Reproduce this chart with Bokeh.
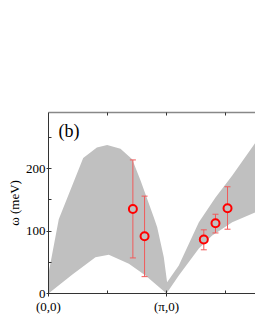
from bokeh.plotting import figure
from bokeh.models import Range1d, FixedTicker, LinearAxis, Label, ColumnDataSource
from bokeh.embed import file_html
from bokeh.resources import INLINE

# gray band boundaries (x in units of pi, omega in meV)
upper_x = [0, 0.087, 0.294, 0.41, 0.497, 0.61, 0.709, 0.78, 0.892, 0.921, 0.977, 1.005,
           1.104, 1.274, 1.415, 1.557, 1.754]
upper_w = [32, 119, 217, 234, 238, 232, 215, 181, 122, 106, 58, 18,
           45, 114, 154, 189, 242]
lower_x = [0, 0.2, 0.398, 0.511, 0.681, 0.822, 1.0, 1.104, 1.274, 1.387, 1.557, 1.754]
lower_w = [0, 30, 58, 62, 47.5, 29, 0, 29, 72, 93, 114, 130]

# measured points
pt_x = [0.715, 0.814, 1.316, 1.415, 1.517]
pt_w = [135.5, 91.7, 86.4, 112.5, 136.5]
pt_hi = [214, 156, 102, 127, 171]
pt_lo = [57, 27, 70, 97, 103]

xtick_vals = [0, 1]
xtick_labels = ["(0,0)", "(π,0)"]
ytick_vals = [0, 100, 200]
ytick_minor = [50, 150, 250]
top_ticks = [0.5, 1, 1.5]

FONT = "Liberation Serif"
BAND = "#c0c0c0"

p = figure(frame_width=207, frame_height=181, output_backend="svg", toolbar_location=None,
           x_range=Range1d(0, 1.754), y_range=Range1d(0, 290),
           min_border_left=48, min_border_right=0, min_border_top=112, min_border_bottom=22)
p.outline_line_color = None
p.xgrid.visible = False
p.ygrid.visible = False
p.background_fill_color = "white"

band_x = upper_x + lower_x[::-1]
band_y = upper_w + lower_w[::-1]
p.patch(band_x, band_y, fill_color=BAND, line_color=None)

src = ColumnDataSource(dict(x=pt_x, w=pt_w, hi=pt_hi, lo=pt_lo))
ebc = "#f05a5a"
p.segment(x0="x", y0="lo", x1="x", y1="hi", source=src, line_color=ebc, line_width=1)
p.scatter(x="x", y="hi", source=src, marker="dash", size=6, line_color=ebc, line_width=1)
p.scatter(x="x", y="lo", source=src, marker="dash", size=6, line_color=ebc, line_width=1)
p.scatter(x="x", y="w", source=src, marker="circle", size=8, line_color="#ff0000",
          line_width=2, fill_color=BAND)

# axes
xa = p.xaxis[0]
xa.ticker = FixedTicker(ticks=xtick_vals, minor_ticks=[0.5, 1.5])
xa.major_label_overrides = {v: t for v, t in zip(xtick_vals, xtick_labels)}
xa.major_label_text_font = FONT
xa.major_label_text_font_size = "13px"
xa.major_label_text_color = "black"
xa.major_tick_in = 3
xa.major_tick_out = 3
xa.minor_tick_in = 3
xa.minor_tick_out = 0
xa.major_label_standoff = 2
xa.axis_line_color = "#333333"
xa.major_tick_line_color = "#333333"
xa.minor_tick_line_color = "#333333"

ya = p.yaxis[0]
ya.ticker = FixedTicker(ticks=ytick_vals, minor_ticks=ytick_minor)
ya.major_label_text_font = FONT
ya.major_label_text_font_size = "13px"
ya.major_label_text_color = "black"
ya.axis_label = "ω (meV)"
ya.axis_label_text_font = FONT
ya.axis_label_text_font_size = "13px"
ya.axis_label_text_font_style = "normal"
ya.axis_label_text_color = "black"
ya.axis_label_standoff = 1
ya.major_tick_in = 3
ya.major_tick_out = 2
ya.minor_tick_in = 3
ya.minor_tick_out = 0
ya.major_label_standoff = 1
ya.axis_line_color = "#333333"
ya.major_tick_line_color = "#333333"
ya.minor_tick_line_color = "#333333"

top = LinearAxis(ticker=FixedTicker(ticks=top_ticks))
top.major_label_overrides = {v: "" for v in top_ticks}
top.major_tick_in = 3
top.major_tick_out = 0
top.minor_tick_in = 0
top.minor_tick_out = 0
top.axis_line_color = "#888888"
top.axis_line_width = 1.5
top.major_tick_line_color = "#333333"
p.add_layout(top, "above")

p.add_layout(Label(x=0.085, y=277, text="(b)", text_font=FONT, text_font_size="18px",
                   text_baseline="top", text_color="black"))

open("out.html", "w").write(file_html(p, INLINE))
